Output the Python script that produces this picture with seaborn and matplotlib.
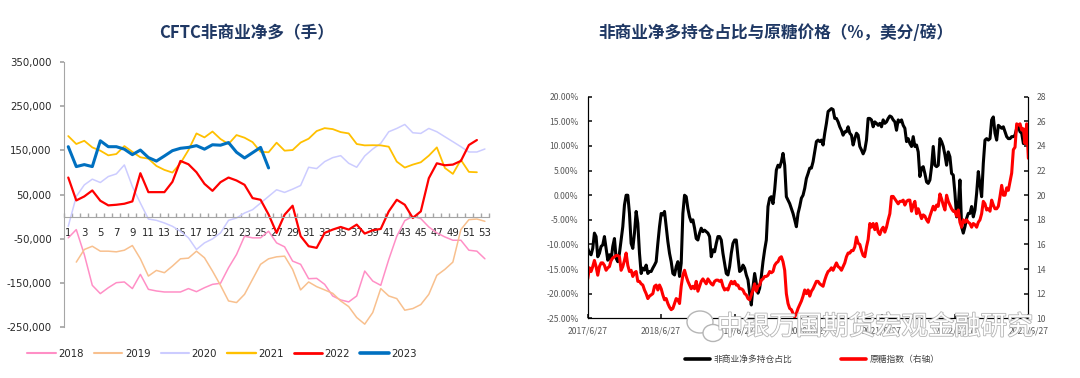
import pandas as pd
import matplotlib
matplotlib.use('Agg')
import matplotlib.pyplot as plt
import matplotlib.patheffects as pe
from matplotlib.lines import Line2D
from matplotlib.patches import Ellipse
from matplotlib.ticker import FuncFormatter
import seaborn as sns

# ---- left chart: CFTC non-commercial net long by week (contracts) ----
weeks = list(range(1, 54))
N = None
y2018 = [-48000, -29300, -85700, -155600, -174400, -161000, -149600, -148000, -163000, -130800,
         -164700, -168400, -170700, -170700, -170700, -163000, -170000, -161000, -153400, -151000,
         -115800, -85700, -44400, -48000, -48000, -33000, -59400, -68400, -100700, -108000,
         -140600, -139800, -153400, -179700, -188700, -193200, -179700, -123300, -145900, -155600,
         -97000, -44400, -9000, 800, -4500, -23300, -36800, -45900, -53400, -53400,
         -76000, -78200, -95500]
y2019 = [N, -103000, -74400, -67000, -78200, -78200, -79700, -76000, -65400, -95500,
         -134600, -121800, -127000, -112000, -95500, -94000, -78200, -93200, -123300, -155600,
         -191000, -194700, -176000, -142000, -108000, -95500, -91000, -89500, -119500, -166000,
         -148000, -158600, -166000, -173700, -191000, -203800, -228600, -243600, -217300, -163000,
         -179700, -185700, -212000, -208300, -199200, -176000, -133000, -119500, -103000, -29300,
         -6800, -5300, -10500]
y2020 = [-21800, 45900, 72000, 85000, 77400, 91000, 97000, 117300, 68400, 30800,
         -5300, -8300, -14300, -21800, -33000, -48000, -74400, -59400, -50400, -36800,
         -8300, -3000, 8300, 15800, 30800, 45900, 61000, 55000, 62400, 70700,
         112000, 109000, 124800, 133800, 138300, 121000, 112000, 137600, 153400, 166200,
         192500, 200000, 209000, 190200, 188700, 200000, 192500, 181200, 170000, 158600,
         146600, 146600, 153400]
y2021 = [182700, 164700, 172000, 157000, 149600, 139000, 142000, 160000, 147000, 134600,
         131600, 115000, 106000, 100000, 121000, 151000, 188700, 179700, 193000, 176000,
         164700, 185000, 179000, 169000, 147000, 146000, 167700, 149600, 151000, 168000,
         176700, 194000, 200700, 198500, 191700, 188700, 164700, 161600, 162000, 161600,
         158600, 124800, 111300, 118000, 123300, 138300, 157000, 110500, 97000, 128600,
         101500, 100700, N]
y2022 = [88700, 36800, 45900, 59400, 36100, 25600, 27000, 29300, 34600, 98500,
         55600, 55600, 55600, 79000, 126300, 118800, 100700, 74400, 58600, 78200,
         88700, 82000, 72200, 42100, 38300, 5000, -36800, 4500, 24800, -44000,
         -67000, -70700, -36800, -29300, -23300, -29300, -18000, -38300, -30800, -27800,
         12000, 38300, 27000, -3000, 12000, 87200, 121000, 116500, 118000, 126300,
         162400, 173700, N]
y2023 = [158600, 113500, 118000, 113500, 172000, 158600, 158600, 153000, 140600, 151000,
         134000, 126000, 137600, 149600, 155000, 157000, 161000, 153000, 163000, 162000,
         168000, 146000, 133000, 145000, 157000, 110500] + [N] * 27

years = ['2018', '2019', '2020', '2021', '2022', '2023']
series = [y2018, y2019, y2020, y2021, y2022, y2023]
year_colors = ['#FF8FC6', '#F8C08E', '#CCCCFF', '#FFC000', '#FF0000', '#0070C0']
year_widths = [1.1, 1.1, 1.1, 1.3, 1.6, 2.2]

# ---- right chart: net long share (%) and raw sugar index, 2017/6/27 - 2023/6/27 ----
net_ratio = [
    -10.8, -11.8, -12.1, -10.8, -7.7, -8.4, -12.5, -11.8, -10.4, -10.1,
    -8.4, -10.8, -13.2, -12.1, -13.2, -10.4, -8.8, -12.8, -13.5, -11.8,
    -9.1, -6.4, -2.0, 0.0, 0.0, -3.7, -9.8, -10.8, -7.7, -3.3,
    -5.7, -11.8, -15.9, -14.8, -15.2, -14.2, -15.9, -15.5, -15.5, -14.8,
    -14.2, -13.5, -9.8, -6.4, -3.7, -4.0, -3.3, -6.4, -9.4, -11.8,
    -13.5, -15.9, -16.2, -14.5, -13.5, -16.5, -13.8, -3.7, 0.0, -0.3,
    -2.7, -4.4, -5.4, -5.0, -6.7, -8.8, -9.1, -7.7, -6.7, -7.4,
    -7.1, -7.4, -7.7, -8.4, -12.5, -11.1, -11.5, -9.8, -8.4, -8.4,
    -9.1, -11.8, -13.8, -15.9, -16.2, -14.5, -11.8, -9.8, -9.1, -9.1,
    -12.5, -15.5, -15.2, -14.2, -14.8, -16.2, -17.2, -19.9, -22.3, -18.6,
    -15.9, -17.9, -19.9, -18.9, -16.5, -13.5, -11.1, -9.1, -2.3, -0.6,
    -0.3, -1.7, 1.1, 5.1, 6.1, 5.7, 6.8, 8.5, 6.1, -0.3,
    -1.0, -1.7, -2.7, -3.7, -5.0, -6.4, -3.7, -2.3, -0.6, 0.0,
    1.4, 3.4, 4.4, 5.5, 5.5, 6.8, 8.8, 10.9, 11.2, 10.9,
    11.2, 10.2, 12.6, 14.6, 17.0, 17.3, 17.6, 17.4, 15.6, 15.6,
    14.9, 13.9, 13.2, 12.2, 12.9, 12.9, 13.9, 12.6, 12.2, 10.2,
    11.5, 12.6, 12.2, 9.9, 9.2, 8.4, 9.2, 11.2, 15.6, 15.6,
    15.3, 13.9, 14.9, 14.6, 14.2, 14.6, 13.9, 15.3, 14.6, 14.9,
    15.6, 16.1, 15.9, 15.3, 14.9, 13.2, 15.3, 14.9, 15.3, 14.2,
    13.6, 10.9, 11.5, 10.5, 9.9, 11.9, 9.9, 10.2, 8.8, 3.8,
    5.5, 5.8, 4.4, 2.7, 2.4, 3.1, 5.8, 9.9, 6.1, 5.8,
    6.1, 11.5, 10.9, 9.9, 8.2, 6.1, 8.8, 7.8, 4.4, 4.1,
    0.4, -4.4, -2.3, 3.1, -6.4, -7.7, -6.4, -4.7, -3.7, -3.7,
    -2.3, -4.4, -3.0, 0.4, 4.8, 2.1, -0.3, 6.5, 11.2, 11.5,
    11.2, 11.5, 15.3, 15.9, 12.6, 11.2, 14.2, 13.9, 13.6, 13.9,
    12.9, 11.9, 11.5, 11.5, 11.9, 11.9, 12.2, 13.6, 13.9, 12.9,
    12.6, 10.5, 10.5, 11.2, 11.5]
sugar_index = [
    13.2, 14.1, 13.8, 14.2, 14.7, 14.2, 13.5, 14.2, 14.5, 14.5,
    14.3, 13.9, 14.1, 14.2, 14.7, 14.9, 15.0, 15.1, 15.1, 15.0,
    13.9, 14.2, 14.7, 15.3, 14.3, 13.8, 13.9, 13.4, 13.7, 13.8,
    13.0, 13.0, 12.8, 12.7, 12.3, 12.0, 11.6, 11.8, 11.9, 12.0,
    12.6, 12.7, 12.3, 12.7, 12.4, 11.9, 11.5, 11.6, 11.2, 10.9,
    10.7, 10.8, 11.2, 11.6, 11.5, 11.2, 12.6, 13.5, 13.9, 13.4,
    13.0, 12.7, 12.4, 12.6, 12.4, 13.0, 12.2, 12.6, 13.0, 13.2,
    13.0, 12.8, 13.2, 13.0, 12.8, 12.7, 13.0, 13.1, 13.1, 13.0,
    13.1, 12.6, 12.3, 12.4, 12.3, 12.7, 13.0, 12.8, 13.0, 12.7,
    12.7, 12.4, 12.4, 12.3, 12.0, 11.9, 11.6, 11.5, 11.9, 12.3,
    12.8, 12.2, 12.6, 12.7, 13.1, 13.2, 13.4, 13.4, 13.5, 13.8,
    13.7, 13.8, 14.3, 14.5, 14.6, 14.9, 15.0, 14.6, 13.9, 12.0,
    11.2, 10.8, 10.7, 10.4, 10.1, 10.4, 10.8, 11.1, 11.4, 11.8,
    12.3, 12.0, 12.3, 11.8, 12.2, 12.4, 12.7, 13.0, 13.0, 12.8,
    12.7, 12.6, 13.1, 13.5, 13.8, 13.9, 14.1, 13.9, 14.2, 14.5,
    14.2, 14.1, 13.9, 14.2, 14.5, 15.0, 15.3, 15.3, 15.5, 15.5,
    15.8, 16.6, 16.1, 16.0, 15.5, 15.1, 15.0, 15.8, 16.4, 17.7,
    17.4, 17.7, 17.2, 17.7, 17.0, 16.8, 17.2, 17.4, 17.0, 17.4,
    18.0, 18.5, 19.9, 19.9, 19.7, 19.5, 19.3, 19.5, 19.5, 19.6,
    19.2, 19.5, 19.6, 19.6, 18.7, 19.2, 19.5, 18.5, 18.9, 18.5,
    18.1, 18.4, 18.3, 18.0, 17.8, 18.3, 18.7, 19.1, 18.8, 19.2,
    19.1, 20.1, 19.7, 19.2, 18.8, 20.0, 19.5, 19.2, 18.9, 18.7,
    18.7, 18.3, 18.8, 17.8, 17.4, 18.0, 17.8, 18.0, 17.8, 17.7,
    17.4, 17.7, 17.6, 17.4, 17.8, 18.0, 18.5, 19.5, 19.3, 18.8,
    18.9, 18.7, 19.6, 19.2, 18.9, 18.9, 19.1, 19.9, 20.8, 20.0,
    20.0, 20.6, 20.4, 21.1, 21.8, 23.7, 23.9, 25.8, 25.7, 25.8,
    25.3, 25.4, 24.2, 25.8, 23.0]
year_ticks = ['2017-06-27', '2018-06-27', '2019-06-27', '2020-06-27',
              '2021-06-27', '2022-06-27', '2023-06-27']

sns.set_theme(style='white')
plt.rcParams['font.family'] = ['Noto Sans CJK SC', 'DejaVu Sans']
plt.rcParams['axes.unicode_minus'] = False

fig = plt.figure(figsize=(10.8, 3.78), dpi=100)
title_color = '#1F3864'

# left chart
ax1 = fig.add_axes([0.0595, 0.135, 0.3932, 0.7003])
for yr, vals, c, w in zip(years, series, year_colors, year_widths):
    d = pd.DataFrame({'week': weeks, 'net': vals}).dropna()
    sns.lineplot(data=d, x='week', y='net', color=c, lw=w, ax=ax1)
ax1.set_xlim(0.5, 53.5)
ax1.set_ylim(-250000, 350000)
ax1.set_yticks(range(-250000, 350001, 100000))
ax1.yaxis.set_major_formatter(FuncFormatter(lambda v, p: f'{v:,.0f}'))
ax1.set_xticks(range(1, 54, 2))
ax1.set_xticks([k + 0.5 for k in range(0, 54)], minor=True)
ax1.spines['top'].set_visible(False)
ax1.spines['right'].set_visible(False)
ax1.spines['bottom'].set_position(('data', 0))
for s in ['left', 'bottom']:
    ax1.spines[s].set_color('#A6A6A6')
    ax1.spines[s].set_linewidth(0.8)
ax1.tick_params(axis='x', which='major', length=0, pad=8, labelsize=7.3, labelcolor='#262626')
ax1.tick_params(axis='x', which='minor', bottom=True, direction='in', length=3, color='#A6A6A6')
ax1.tick_params(axis='y', left=True, direction='out', length=3, color='#A6A6A6',
                pad=6, labelsize=7.3, labelcolor='#262626')
for lab in ax1.get_xticklabels() + ax1.get_yticklabels():
    lab.set_fontfamily('DejaVu Sans')
ax1.set_xlabel('')
ax1.set_ylabel('')
fig.text(247 / 1080, 1 - 33 / 378, 'CFTC非商业净多（手）', ha='center', va='center',
         fontsize=12, fontweight='bold', color=title_color)
handles = [Line2D([], [], color=c, lw=w + 0.4) for c, w in zip(year_colors, year_widths)]
leg1 = fig.legend(handles, years, loc='center', bbox_to_anchor=(0.2056, 0.0635), ncol=6,
                  frameon=False, fontsize=7.3, handlelength=2.8, handletextpad=0.25,
                  columnspacing=1.0)
for t in leg1.get_texts():
    t.set_fontfamily('DejaVu Sans')
    t.set_color('#262626')

# right chart
ax2 = fig.add_axes([0.5442, 0.158, 0.408, 0.586])
dates_ratio = pd.date_range('2017-06-27', '2023-06-27', periods=len(net_ratio))
dates_sugar = pd.date_range('2017-06-27', '2023-06-27', periods=len(sugar_index))
sns.lineplot(x=dates_ratio, y=net_ratio, color='black', lw=2.2, ax=ax2)
ax3 = ax2.twinx()
sns.lineplot(x=dates_sugar, y=sugar_index, color='#FF0000', lw=2.2, ax=ax3)
ax2.set_ylim(-25, 20)
ax2.set_yticks(range(-25, 21, 5))
ax2.yaxis.set_major_formatter(FuncFormatter(lambda v, p: f'{v:.2f}%'))
ax3.set_ylim(10, 28)
ax3.set_yticks(range(10, 29, 2))
xt = pd.to_datetime(year_ticks)
ax2.set_xticks(xt)
ax2.set_xticklabels([f'{d.year}/{d.month}/{d.day}' for d in xt])
ax2.set_xlim(dates_ratio[0], dates_ratio[-1])
for a in (ax2, ax3):
    for s in a.spines.values():
        s.set_color('#000000')
        s.set_linewidth(0.8)
    a.spines['top'].set_visible(False)
    a.set_xlabel('')
    a.set_ylabel('')
ax2.tick_params(axis='x', bottom=True, direction='in', length=3, pad=6,
                labelsize=6.2, labelcolor='#595959')
ax2.tick_params(axis='y', left=True, direction='in', length=3, pad=6.5,
                labelsize=6.2, labelcolor='#595959')
ax3.tick_params(axis='y', right=True, direction='in', length=3, pad=6,
                labelsize=6.2, labelcolor='#595959')
fig.text(776 / 1080, 1 - 33 / 378, '非商业净多持仓占比与原糖价格（%，美分/磅）', ha='center',
         va='center', fontsize=12, fontweight='bold', color=title_color)
fig.legend([Line2D([], [], color='black', lw=2.6), Line2D([], [], color='#FF0000', lw=2.6)],
           ['非商业净多持仓占比', '原糖指数（右轴）'], loc='center', bbox_to_anchor=(0.752, 0.05),
           ncol=2, frameon=False, fontsize=6.3, handlelength=2.9, handletextpad=0.4,
           columnspacing=5.5, labelcolor='#404040')

# watermark (wechat style bubbles + account name)
for cx, cy, w, h in [(700, 322, 26, 22), (713, 333, 20, 17)]:
    fig.patches.append(Ellipse((cx / 1080, 1 - cy / 378), w / 1080, h / 378,
                               transform=fig.transFigure, facecolor='white',
                               edgecolor='#B5B5B5', lw=1.0, zorder=9))
fig.text(875 / 1080, 1 - 327 / 378, '中银万国期货宏观金融研究', ha='center', va='center',
         fontsize=19, color='white', zorder=10,
         path_effects=[pe.withStroke(linewidth=1.2, foreground='#B5B5B5')])

fig.savefig('out.png', dpi=100)
